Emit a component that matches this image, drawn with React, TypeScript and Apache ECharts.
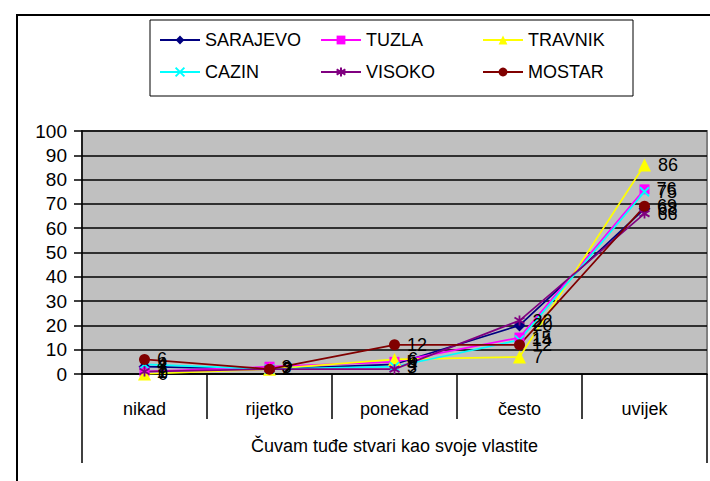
import React, { useEffect, useRef } from "react";
import * as echarts from "echarts";

const categories = ["nikad", "rijetko", "ponekad", "često", "uvijek"];
const groupLabel = ["Čuvam tuđe stvari kao svoje vlastite"];
const sarajevo = [3, 2, 4, 20, 68];
const tuzla = [1, 3, 5, 15, 76];
const travnik = [0, 2, 6, 7, 86];
const cazin = [4, 2, 3, 14, 75];
const visoko = [1, 2, 2, 22, 66];
const mostar = [6, 2, 12, 12, 69];

const FONT = "Liberation Sans, Arial, sans-serif";

const X_PATH = "path://M0,0L10,10M10,0L0,10";
const STAR_PATH = "path://M5,0L5,10M0,2L10,8M0,8L10,2";

function mk(name: string, data: number[], color: string, symbol: string, size: number) {
  const isStroke = symbol.startsWith("path://");
  return {
    name,
    type: "line",
    data,
    symbol,
    symbolSize: size,
    lineStyle: { color, width: 1.7 },
    itemStyle: isStroke
      ? { color, borderColor: color, borderWidth: 1.8 }
      : { color },
    label: {
      show: true,
      position: "right",
      distance: 7,
      color: "#000",
      fontSize: 18,
      fontFamily: FONT,
    },
    emphasis: { disabled: true },
  };
}

export default function App() {
  const ref = useRef<HTMLDivElement>(null);
  useEffect(() => {
    if (!ref.current) return;
    const chart = echarts.init(ref.current, undefined, { renderer: "svg" });
    const legendBase = {
      orient: "vertical",
      top: 31,
      padding: 0,
      itemWidth: 40,
      itemHeight: 11,
      itemGap: 14,
      textStyle: { fontSize: 18, fontFamily: FONT, color: "#000" },
    };
    chart.setOption({
      animation: false,
      backgroundColor: "#fff",
      textStyle: { fontFamily: FONT },
      graphic: [
        {
          type: "rect",
          z: -10,
          shape: { x: 17, y: 15, width: 800, height: 600 },
          style: { fill: "none", stroke: "#000", lineWidth: 2 },
        },
        {
          type: "rect",
          z: -5,
          shape: { x: 150, y: 20, width: 483, height: 76 },
          style: { fill: "#fff", stroke: "#000", lineWidth: 1 },
        },
      ],
      legend: [
        { ...legendBase, left: 159, data: ["SARAJEVO", "CAZIN"] },
        { ...legendBase, left: 320, data: ["TUZLA", "VISOKO"] },
        { ...legendBase, left: 482, data: ["TRAVNIK", "MOSTAR"] },
      ],
      grid: {
        left: 82,
        right: 3,
        top: 131,
        bottom: 107,
        show: true,
        backgroundColor: "#c0c0c0",
        borderColor: "#808080",
        borderWidth: 2,
      },
      xAxis: [
        {
          type: "category",
          data: categories,
          boundaryGap: true,
          position: "bottom",
          axisLine: { lineStyle: { color: "#000", width: 1.5 } },
          axisTick: { show: true, length: 45, interval: 0, lineStyle: { color: "#000", width: 1.5 } },
          axisLabel: { color: "#000", fontSize: 18, fontFamily: FONT, margin: 26, interval: 0 },
          splitLine: { show: false },
        },
        {
          type: "category",
          data: groupLabel,
          boundaryGap: true,
          position: "bottom",
          offset: 45,
          axisLine: { show: false },
          axisTick: { show: true, length: 44, interval: 0, lineStyle: { color: "#000", width: 1.5 } },
          axisLabel: { color: "#000", fontSize: 18, fontFamily: FONT, margin: 18 },
          splitLine: { show: false },
        },
      ],
      yAxis: {
        type: "value",
        min: 0,
        max: 100,
        interval: 10,
        axisLine: { show: true, lineStyle: { color: "#000", width: 1.5 } },
        axisTick: { show: true, length: 8, lineStyle: { color: "#000", width: 1.5 } },
        axisLabel: { color: "#000", fontSize: 19, fontFamily: FONT, margin: 15 },
        splitLine: { show: true, lineStyle: { color: "#000", width: 1.5 } },
      },
      series: [
        mk("SARAJEVO", sarajevo, "#000080", "diamond", 12),
        mk("TUZLA", tuzla, "#ff00ff", "rect", 10),
        mk("TRAVNIK", travnik, "#ffff00", "triangle", 13),
        mk("CAZIN", cazin, "#00ffff", X_PATH, 9),
        mk("VISOKO", visoko, "#800080", STAR_PATH, 10),
        mk("MOSTAR", mostar, "#800000", "circle", 11),
      ],
    });
    return () => chart.dispose();
  }, []);
  return <div ref={ref} style={{ width: 710, height: 481, position: "absolute", left: 0, top: 0 }} />;
}
